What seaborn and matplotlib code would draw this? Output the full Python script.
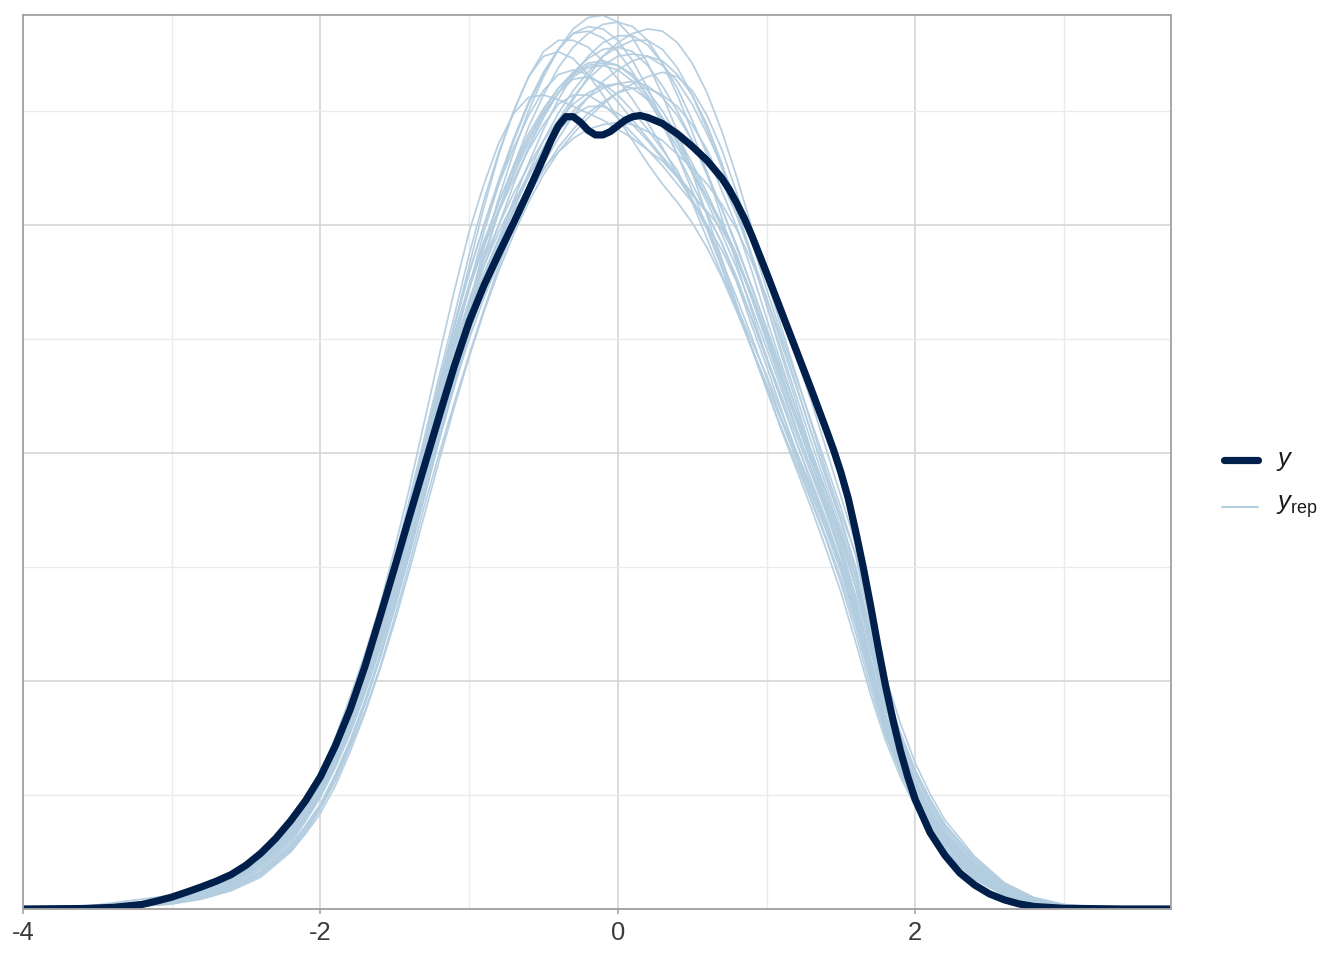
import matplotlib
matplotlib.use("Agg")
import matplotlib.pyplot as plt
from matplotlib.lines import Line2D
import numpy as np
import pandas as pd
import seaborn as sns

# ---------------- data ----------------
x_tick_values = [-4, -2, 0, 2]
x_tick_labels = ["-4", "-2", "0", "2"]
x_minor_ticks = [-3, -1, 1, 3]
y_major_grid = [0.0, 0.1, 0.2, 0.3]
y_minor_grid = [0.05, 0.15, 0.25, 0.35]

# observed density (y)
x_obs = [-4.0, -3.6, -3.4, -3.2, -3.1,
         -3.0, -2.9, -2.8, -2.7, -2.6, -2.5, -2.4, -2.3, -2.2, -2.1, -2.0, -1.9, -1.8, -1.7, -1.6,
         -1.5, -1.4, -1.3, -1.2, -1.1, -1.0, -0.9, -0.8, -0.7, -0.6, -0.5,
         -0.45, -0.4, -0.35, -0.3, -0.25, -0.2, -0.15, -0.1, -0.05, 0.0, 0.05, 0.1, 0.15, 0.2,
         0.3, 0.4, 0.5, 0.6, 0.7,
         0.75, 0.8, 0.85, 0.9,
         1.0, 1.1, 1.2, 1.3, 1.4, 1.45, 1.5,
         1.55, 1.6, 1.65, 1.7, 1.75, 1.8, 1.85, 1.9, 1.95, 2.0,
         2.1, 2.2, 2.3, 2.4, 2.5, 2.6, 2.7, 2.8,
         3.0, 3.4, 3.72]
y_obs = [0.0, 0.0002, 0.0007, 0.0020, 0.0035,
         0.0052, 0.0074, 0.0097, 0.0122, 0.0151, 0.0192, 0.0245, 0.0310, 0.0387, 0.0475, 0.058,
         0.0715, 0.0875, 0.1065, 0.128,
         0.150, 0.1725, 0.1945, 0.2165, 0.238, 0.2575, 0.2735, 0.2875, 0.301, 0.315, 0.3295,
         0.337, 0.3435, 0.3475, 0.3475, 0.345, 0.3415, 0.3395, 0.3395, 0.341, 0.3435, 0.346,
         0.3475, 0.348, 0.3472,
         0.3445, 0.340, 0.3345, 0.3283, 0.3205,
         0.3155, 0.3095, 0.303, 0.2955,
         0.279, 0.262, 0.245, 0.228, 0.2105, 0.2015, 0.1915,
         0.180, 0.1655, 0.150, 0.133, 0.115, 0.098, 0.083, 0.0695, 0.058, 0.048,
         0.0335, 0.0235, 0.0158, 0.0105, 0.0066, 0.0040, 0.0022, 0.0011,
         0.0003, 0.0, 0.0]

# replicated densities (y_rep), common x grid
x_rep = [-4.0, -3.6, -3.3, -3.0, -2.8, -2.6, -2.4, -2.2, -2.1, -2.0, -1.9, -1.8, -1.7, -1.6,
         -1.5, -1.4, -1.3, -1.2, -1.1, -1.0, -0.9, -0.8, -0.7, -0.6, -0.5, -0.4, -0.3, -0.2,
         -0.1, 0.0, 0.1, 0.2, 0.3, 0.4, 0.5, 0.6, 0.7, 0.8, 0.9, 1.0, 1.1, 1.2, 1.3, 1.4, 1.5,
         1.6, 1.7, 1.8, 1.9, 2.0, 2.1, 2.2, 2.4, 2.6, 2.8, 3.0, 3.3, 3.72]

rep_01 = [0, .0004, .0013, .0038, .007, .012, .020, .032, .041, .052, .065, .080, .098, .118,
          .142, .168, .195, .222, .248, .272, .292, .310, .326, .340, .351, .360, .366, .370, .371,
          .370, .366, .359, .350, .339, .327, .314, .300, .285, .268, .250, .232, .214, .196, .177, .155,
          .130, .105, .082, .0655, .052, .0405, .031, .017, .008, .0035, .0013, .0003, 0]
rep_02 = [0, .0003, .001, .0032, .006, .011, .019, .031, .040, .050, .063, .079, .097, .117,
          .140, .165, .190, .214, .240, .265, .290, .312, .332, .350, .365, .377, .386, .391, .392,
          .389, .382, .371, .357, .341, .323, .304, .285, .265, .246, .228, .210, .193, .176, .158, .139,
          .117, .094, .074, .058, .045, .035, .026, .014, .0065, .0028, .001, .0002, 0]
rep_03 = [0, .0002, .0008, .0025, .0048, .0088, .015, .026, .034, .044, .056, .071, .087, .106,
          .128, .152, .177, .200, .222, .243, .263, .282, .299, .315, .330, .343, .355, .365, .374,
          .380, .384, .386, .385, .380, .371, .358, .341, .321, .299, .277, .255, .234, .213, .192, .173,
          .156, .124, .094, .076, .060, .048, .037, .022, .011, .0048, .0018, .0004, 0]
rep_04 = [0, .0005, .0017, .005, .009, .015, .024, .038, .047, .058, .073, .090, .109, .130,
          .154, .180, .207, .234, .260, .287, .311, .332, .350, .365, .376, .381, .381, .378, .372,
          .364, .355, .345, .334, .322, .311, .300, .284, .268, .251, .233, .215, .197, .180, .163, .145,
          .124, .100, .077, .061, .047, .035, .025, .013, .006, .0024, .0009, .0002, 0]
rep_05 = [0, .0006, .002, .0055, .0095, .016, .025, .039, .049, .060, .075, .093, .112, .133,
          .158, .185, .214, .243, .271, .297, .318, .336, .349, .356, .357, .355, .352, .349, .346,
          .342, .338, .333, .328, .321, .311, .298, .281, .263, .246, .230, .215, .200, .185, .169, .151,
          .128, .104, .080, .062, .047, .035, .025, .013, .006, .0024, .0009, .0002, 0]
rep_06 = [0, .0005, .0015, .004, .0073, .0125, .021, .034, .0435, .054, .067, .083, .1005, .120,
          .143, .167, .193, .218, .242, .262, .279, .294, .306, .316, .325, .332, .338, .342, .344,
          .345, .344, .341, .337, .331, .325, .318, .309, .298, .284, .268, .250, .230, .209, .189, .170,
          .148, .119, .093, .0745, .059, .0465, .036, .021, .010, .0045, .0017, .0004, 0]
rep_07 = [0, .0003, .0009, .0028, .0053, .0095, .0165, .028, .0365, .046, .059, .074, .0915, .111,
          .133, .157, .182, .207, .231, .254, .275, .292, .307, .321, .334, .346, .356, .364, .370,
          .374, .375, .374, .370, .363, .353, .340, .326, .310, .293, .276, .259, .242, .223, .202, .181,
          .160, .130, .102, .0815, .064, .0505, .039, .023, .0115, .005, .002, .0005, 0]
rep_08 = [0, .0007, .0022, .0045, .0075, .0125, .021, .034, .0435, .054, .067, .083, .1015, .122,
          .145, .170, .199, .227, .252, .274, .293, .310, .325, .338, .349, .358, .364, .365, .362,
          .357, .350, .342, .333, .324, .310, .294, .278, .264, .249, .234, .218, .201, .185, .169, .151,
          .128, .103, .080, .0635, .050, .0385, .029, .015, .007, .003, .0011, .0003, 0]
rep_09 = [0, .0004, .0012, .0036, .0068, .012, .020, .033, .042, .052, .0655, .081, .0985, .118,
          .141, .166, .191, .216, .240, .262, .282, .300, .318, .334, .347, .358, .367, .373, .377,
          .378, .376, .370, .361, .350, .337, .322, .307, .291, .273, .254, .235, .215, .196, .178, .159,
          .137, .110, .085, .0675, .053, .041, .031, .017, .008, .0035, .0013, .0003, 0]
rep_10 = [0, .0004, .0011, .0032, .006, .0105, .018, .030, .0395, .050, .063, .078, .0955, .115,
          .137, .160, .185, .210, .233, .254, .272, .288, .301, .313, .324, .334, .342, .349, .354,
          .358, .360, .360, .357, .352, .344, .333, .319, .304, .286, .265, .243, .222, .201, .183, .165,
          .145, .1165, .090, .0715, .056, .0435, .033, .019, .009, .004, .0015, .0004, 0]
rep_11 = [0, .001, .0035, .006, .008, .013, .022, .035, .0445, .055, .0685, .084, .102, .122,
          .145, .170, .197, .224, .250, .272, .291, .307, .322, .336, .348, .358, .365, .369, .370,
          .368, .363, .355, .345, .334, .323, .312, .301, .287, .268, .249, .230, .211, .193, .175, .156,
          .133, .107, .083, .0655, .051, .0395, .030, .016, .0075, .0032, .0012, .0003, 0]
rep_12 = [0, .0003, .001, .003, .0057, .010, .0175, .029, .0385, .049, .062, .077, .0945, .114,
          .136, .160, .185, .210, .234, .256, .276, .294, .311, .327, .342, .355, .366, .374, .380,
          .383, .383, .379, .371, .360, .346, .331, .315, .299, .280, .259, .239, .219, .199, .180, .162,
          .141, .1135, .088, .070, .055, .0425, .032, .018, .0085, .0037, .0014, .0003, 0]
rep_13 = [0, .0005, .0016, .0045, .008, .0135, .022, .036, .0455, .056, .0705, .087, .1055, .126,
          .150, .176, .204, .231, .256, .279, .300, .318, .334, .348, .359, .366, .368, .366, .361,
          .354, .346, .338, .330, .322, .314, .305, .292, .277, .259, .241, .223, .205, .188, .171, .152,
          .129, .1035, .080, .0635, .050, .038, .028, .015, .007, .003, .0011, .0003, 0]
rep_14 = [0, .0005, .0016, .0044, .0078, .013, .0215, .035, .0445, .055, .0695, .086, .1045, .125,
          .148, .173, .200, .224, .246, .265, .282, .297, .310, .322, .332, .341, .348, .352, .352,
          .349, .344, .337, .329, .321, .313, .306, .298, .286, .270, .252, .234, .216, .200, .183, .164,
          .142, .1145, .089, .0705, .055, .043, .033, .0195, .0095, .0042, .0016, .0004, 0]
rep_15 = [0, .0003, .0009, .0027, .005, .009, .016, .027, .0355, .045, .058, .073, .0905, .110,
          .132, .156, .181, .206, .229, .250, .268, .284, .300, .314, .327, .338, .348, .356, .363,
          .368, .372, .374, .372, .366, .357, .344, .327, .307, .287, .268, .248, .229, .209, .190, .171,
          .150, .121, .094, .075, .059, .046, .035, .020, .0098, .0043, .0016, .0004, 0]
rep_16 = [0, .0005, .0014, .0041, .0075, .0128, .021, .034, .0435, .054, .067, .083, .101, .121,
          .144, .169, .196, .222, .246, .267, .285, .300, .314, .326, .337, .346, .353, .358, .361,
          .362, .360, .355, .347, .337, .325, .312, .299, .285, .269, .252, .234, .216, .198, .180, .160,
          .136, .1095, .085, .068, .054, .042, .032, .018, .0085, .0037, .0014, .0003, 0]
rep_17 = [0, .0004, .0013, .0038, .007, .0122, .021, .034, .043, .053, .0665, .082, .100, .120,
          .143, .169, .199, .228, .255, .279, .300, .320, .338, .354, .367, .377, .384, .385, .382,
          .376, .367, .356, .344, .331, .318, .305, .292, .275, .256, .238, .219, .200, .183, .167, .150,
          .127, .1015, .078, .0615, .048, .0365, .026, .0135, .006, .0025, .0009, .0002, 0]
rep_18 = [0, .0004, .0012, .0036, .0067, .0118, .020, .032, .041, .051, .064, .080, .098, .118,
          .141, .166, .193, .220, .247, .273, .297, .318, .337, .353, .366, .377, .384, .387, .386,
          .381, .372, .360, .346, .331, .315, .299, .282, .264, .246, .228, .211, .195, .179, .162, .143,
          .121, .097, .076, .060, .046, .035, .026, .014, .0065, .0027, .001, .0002, 0]
rep_19 = [0, .0005, .0016, .0047, .0085, .0142, .023, .037, .046, .057, .071, .088, .107, .128,
          .152, .178, .204, .230, .256, .282, .308, .331, .350, .365, .374, .376, .373, .366, .357,
          .347, .337, .327, .318, .310, .301, .290, .277, .262, .246, .230, .214, .198, .182, .166, .148,
          .126, .102, .079, .062, .048, .036, .026, .0135, .0062, .0025, .0009, .0002, 0]
rep_20 = [0, .0002, .0007, .0022, .0043, .008, .014, .025, .033, .042, .054, .069, .086, .105,
          .126, .149, .173, .197, .220, .242, .262, .280, .296, .310, .322, .332, .340, .347, .353,
          .358, .362, .365, .367, .365, .359, .348, .333, .314, .293, .272, .252, .233, .214, .195, .176,
          .155, .125, .097, .0775, .061, .048, .037, .0215, .0105, .0046, .0017, .0004, 0]
rep_21 = [0, .0003, .0009, .0027, .0051, .0092, .016, .027, .0355, .045, .058, .073, .090, .110,
          .132, .156, .181, .206, .230, .252, .272, .290, .307, .323, .337, .349, .359, .367, .374,
          .378, .381, .381, .377, .369, .357, .342, .325, .306, .286, .265, .245, .225, .205, .186, .167,
          .146, .118, .091, .0725, .057, .0445, .034, .019, .009, .004, .0015, .0004, 0]
rep_22 = [0, .0006, .0018, .005, .0088, .0145, .023, .037, .0465, .057, .071, .088, .107, .127,
          .150, .175, .201, .227, .252, .273, .291, .306, .320, .333, .344, .353, .357, .357, .353,
          .347, .340, .333, .326, .318, .310, .300, .289, .275, .259, .242, .225, .208, .191, .174, .155,
          .132, .106, .082, .065, .051, .039, .029, .0155, .0072, .003, .0011, .0003, 0]
rep_23 = [0, .0004, .0012, .0035, .0066, .0115, .0195, .032, .041, .051, .064, .080, .098, .118,
          .141, .166, .192, .218, .243, .266, .287, .306, .323, .338, .350, .360, .367, .371, .372,
          .370, .365, .357, .347, .336, .323, .310, .296, .281, .264, .246, .228, .210, .193, .176, .157,
          .134, .108, .084, .0665, .052, .040, .030, .0165, .0077, .0033, .0012, .0003, 0]
rep_24 = [0, .0002, .0007, .0024, .0046, .0085, .015, .026, .034, .044, .057, .072, .090, .111,
          .134, .159, .185, .211, .237, .262, .285, .306, .326, .343, .357, .369, .378, .384, .388,
          .389, .387, .381, .371, .357, .341, .323, .303, .283, .262, .242, .223, .205, .187, .169, .150,
          .128, .103, .079, .0625, .049, .037, .027, .0145, .0066, .0027, .001, .0002, 0]
rep_25 = [0, .0004, .0012, .0035, .0065, .0113, .019, .031, .040, .050, .063, .079, .097, .117,
          .139, .163, .188, .213, .237, .258, .277, .294, .309, .322, .333, .342, .350, .356, .360,
          .362, .363, .361, .356, .348, .337, .323, .307, .290, .273, .255, .237, .219, .201, .183, .163,
          .141, .114, .088, .070, .055, .0425, .032, .018, .0085, .0037, .0014, .0003, 0]

rep_curves = {
    "rep_01": rep_01, "rep_02": rep_02, "rep_03": rep_03, "rep_04": rep_04,
    "rep_05": rep_05, "rep_06": rep_06, "rep_07": rep_07, "rep_08": rep_08,
    "rep_09": rep_09, "rep_10": rep_10, "rep_11": rep_11, "rep_12": rep_12,
    "rep_13": rep_13, "rep_14": rep_14, "rep_15": rep_15, "rep_16": rep_16,
    "rep_17": rep_17, "rep_18": rep_18, "rep_19": rep_19, "rep_20": rep_20,
    "rep_21": rep_21, "rep_22": rep_22, "rep_23": rep_23, "rep_24": rep_24,
    "rep_25": rep_25,
}

# ---------------- build tables ----------------
assert len(x_obs) == len(y_obs)
frames = []
for name, vals in rep_curves.items():
    assert len(vals) == len(x_rep), (name, len(vals))
    frames.append(pd.DataFrame({"x": x_rep, "density": vals, "draw": name}))
rep_df = pd.concat(frames, ignore_index=True)
obs_df = pd.DataFrame({"x": x_obs, "density": y_obs})

# ---------------- styling ----------------
sns.set_theme(style="white")
plt.rcParams["font.family"] = ["Liberation Sans", "DejaVu Sans"]
plt.rcParams["mathtext.fontset"] = "custom"
plt.rcParams["mathtext.it"] = "Liberation Sans:italic"
plt.rcParams["mathtext.rm"] = "Liberation Sans"
plt.rcParams["axes.unicode_minus"] = False

W, H = 1344, 960
fig = plt.figure(figsize=(7, 5), dpi=192)
fig.patch.set_facecolor("white")
ax = fig.add_axes([23 / W, 1 - 909 / H, (1171 - 23) / W, (909 - 15) / H])

rep_color = "#b3cde0"
obs_color = "#011f4b"

sns.lineplot(data=rep_df, x="x", y="density", units="draw", estimator=None,
             color=rep_color, linewidth=0.65, alpha=0.95, sort=False,
             legend=False, ax=ax, solid_joinstyle="round")
sns.lineplot(data=obs_df, x="x", y="density", estimator=None, color=obs_color,
             linewidth=2.7, sort=False, legend=False, ax=ax,
             solid_capstyle="round", solid_joinstyle="round")

ax.set_xlim(-4.0, 3.72)
ax.set_ylim(0, 0.3921)
ax.set_xticks(x_tick_values)
ax.set_xticklabels(x_tick_labels)
ax.set_xticks(x_minor_ticks, minor=True)
ax.set_yticks(y_major_grid)
ax.set_yticks(y_minor_grid, minor=True)
ax.set_yticklabels([])
ax.set_xlabel("")
ax.set_ylabel("")

ax.set_axisbelow(True)
ax.grid(which="major", color="#d4d4d4", linewidth=0.6)
ax.grid(which="minor", color="#ebebeb", linewidth=0.5)

for side, sp in ax.spines.items():
    sp.set_visible(True)
    sp.set_color("#a3a3a3")
    sp.set_linewidth(0.7)

ax.tick_params(axis="x", which="major", bottom=True, length=2.0, width=0.6,
               color="#a3a3a3", labelsize=9.6, labelcolor="#3a3a3a", pad=2.5)
ax.tick_params(axis="x", which="minor", bottom=False, length=0)
ax.tick_params(axis="y", which="both", left=False, length=0, labelleft=False)

# ---------------- legend (right side) ----------------
def fx(px):
    return px / W

def fy(py):
    return 1 - py / H

fig.add_artist(Line2D([fx(1224), fx(1258)], [fy(460), fy(460)], color=obs_color,
                      linewidth=2.7, solid_capstyle="round", transform=fig.transFigure))
fig.add_artist(Line2D([fx(1222), fx(1258)], [fy(507), fy(507)], color=rep_color,
                      linewidth=0.75, transform=fig.transFigure))
fig.text(fx(1276), fy(461), r"$y$", fontsize=9.6, color="#1a1a1a", va="center", ha="left")
fig.text(fx(1276), fy(507), r"$y_{\mathrm{rep}}$", fontsize=9.6, color="#1a1a1a",
         va="center", ha="left")

fig.savefig("out.png", dpi=192, facecolor="white")
